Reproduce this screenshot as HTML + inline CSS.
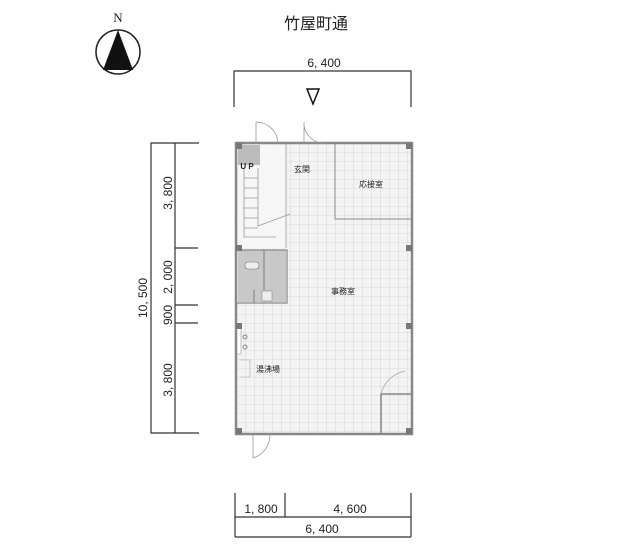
<!DOCTYPE html>
<html><head><meta charset="utf-8"><style>
html,body{margin:0;padding:0;background:#fff;}
svg{display:block;}
text{font-family:"Liberation Sans","Noto Sans CJK JP",sans-serif;fill:#222;}
</style></head><body>
<svg width="626" height="554" viewBox="0 0 626 554" xmlns="http://www.w3.org/2000/svg">
<defs>
<pattern id="g" x="236" y="143" width="9" height="9" patternUnits="userSpaceOnUse">
<rect width="9" height="9" fill="#f3f3f3"/>
<path d="M0 0H9M0 0V9" stroke="#cfcfcf" stroke-width="0.8"/>
</pattern>
</defs>
<!-- compass -->
<text x="118" y="22" font-size="13" text-anchor="middle" style="font-family:'Liberation Serif',serif">N</text>
<circle cx="118" cy="52" r="22" fill="#fff" stroke="#222" stroke-width="1.5"/>
<polygon points="118,30 103,70 133,70" fill="#111"/>
<!-- title -->
<text x="316" y="29" font-size="16" text-anchor="middle">竹屋町通</text>
<!-- top dim -->
<text x="324" y="67" font-size="12" text-anchor="middle">6, 400</text>
<path d="M234 107V71H411V107" fill="none" stroke="#333" stroke-width="1.2"/>
<polygon points="307,89 319,89 313,104" fill="none" stroke="#111" stroke-width="1.5"/>
<!-- left dims -->
<path d="M199 143H151V433H199M175 143V433M175 248H198M175 305H198M175 323H198" fill="none" stroke="#333" stroke-width="1.2"/>
<g font-size="12" text-anchor="middle">
<text transform="translate(147,298) rotate(-90)">10, 500</text>
<text transform="translate(172,193) rotate(-90)">3, 800</text>
<text transform="translate(172,277) rotate(-90)">2, 000</text>
<text transform="translate(172,315) rotate(-90)">900</text>
<text transform="translate(172,380) rotate(-90)">3, 800</text>
</g>
<!-- building -->
<rect x="236" y="143" width="176" height="291" fill="url(#g)"/>
<rect x="236" y="143" width="176" height="291" fill="none" stroke="#888" stroke-width="2.5"/>
<!-- stair area -->
<rect x="238" y="145" width="48" height="103" fill="#f6f6f6"/>
<path d="M286 143V248M244 168V237H276M258 168V226M244 178H258M244 188H258M244 198H258M244 208H258M244 218H258M244 228H258M258 226L290 214" fill="none" stroke="#999" stroke-width="0.8"/>
<path d="M238 145h22v20h-22z" fill="#bbb"/>
<text x="247" y="169" font-size="8" text-anchor="middle" font-weight="bold">U P</text>
<!-- wc area -->
<rect x="238" y="250" width="48" height="52" fill="#c8c8c8"/>
<path d="M236 250H287V303H236M264 250V290M254 290V303" fill="none" stroke="#888" stroke-width="1.2"/>
<rect x="245" y="262" width="14" height="7" rx="3" fill="#eee" stroke="#777" stroke-width="0.6"/>
<rect x="262" y="291" width="10" height="10" fill="#eee" stroke="#888" stroke-width="0.6"/>
<!-- room walls -->
<path d="M335 143V219H412" fill="none" stroke="#888" stroke-width="1"/>
<path d="M381 394V434M381 394H412" fill="none" stroke="#888" stroke-width="1.5"/>
<path d="M381 394A31 31 0 0 1 405 371" fill="none" stroke="#aaa" stroke-width="0.8"/>
<!-- kitchen -->
<rect x="237" y="328" width="4" height="26" fill="#fff" stroke="#999" stroke-width="0.6"/>
<circle cx="245" cy="337" r="2" fill="none" stroke="#888"/><circle cx="245" cy="347" r="2" fill="none" stroke="#888"/>
<path d="M240 360H250V377H240" fill="none" stroke="#aaa" stroke-width="0.6"/>
<!-- doors -->
<path d="M256 143V122A22 22 0 0 1 278 143M304 143V122A20 20 0 0 0 322 143M253 434V458A24 24 0 0 0 270 434" fill="none" stroke="#999" stroke-width="0.8"/>
<!-- columns -->
<g fill="#777"><rect x="236" y="143" width="6" height="6"/><rect x="406" y="143" width="6" height="6"/><rect x="236" y="245" width="6" height="6"/><rect x="406" y="245" width="6" height="6"/><rect x="236" y="323" width="6" height="6"/><rect x="406" y="323" width="6" height="6"/><rect x="236" y="428" width="6" height="6"/><rect x="406" y="428" width="6" height="6"/></g>
<g font-size="8" text-anchor="middle">
<text x="302" y="172">玄関</text>
<text x="371" y="187">応接室</text>
<text x="343" y="294">事務室</text>
<text x="268" y="372">湯沸場</text>
</g>
<!-- bottom dims -->
<path d="M235 493V537M285 493V517M411 493V537M235 517H411M235 537H411" fill="none" stroke="#333" stroke-width="1.2"/>
<g font-size="12" text-anchor="middle">
<text x="261" y="513">1, 800</text>
<text x="350" y="513">4, 600</text>
<text x="322" y="533">6, 400</text>
</g>
</svg>
</body></html>
